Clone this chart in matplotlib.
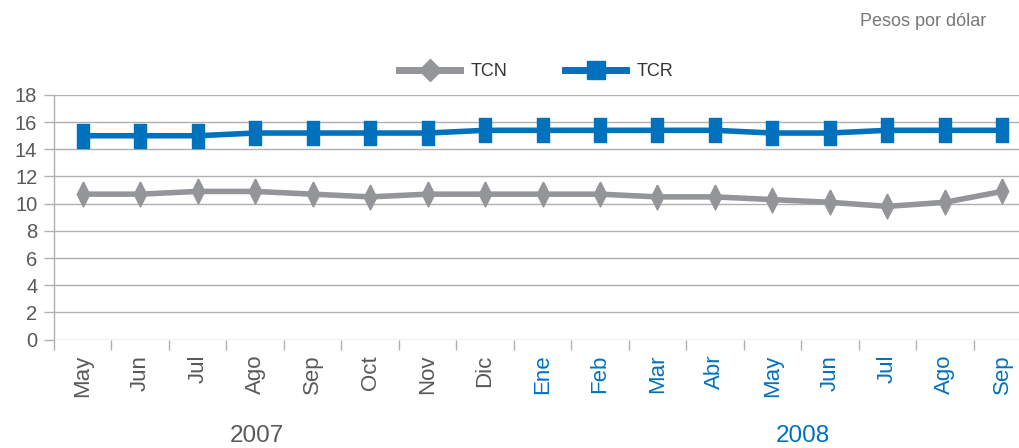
import matplotlib
matplotlib.use("Agg")
import matplotlib.pyplot as plt
from matplotlib.lines import Line2D

plt.rcParams['font.family'] = ['Liberation Sans', 'DejaVu Sans']

meses = ['May', 'Jun', 'Jul', 'Ago', 'Sep', 'Oct', 'Nov', 'Dic',
         'Ene', 'Feb', 'Mar', 'Abr', 'May', 'Jun', 'Jul', 'Ago', 'Sep']
anios = ['2007', '2008']
tcn = [10.7, 10.7, 10.9, 10.9, 10.7, 10.5, 10.7, 10.7,
       10.7, 10.7, 10.5, 10.5, 10.3, 10.1, 9.8, 10.1, 10.9]
tcr = [15.0, 15.0, 15.0, 15.2, 15.2, 15.2, 15.2, 15.4,
       15.4, 15.4, 15.4, 15.4, 15.2, 15.2, 15.4, 15.4, 15.4]

gris = '#939598'
azul = '#0071BD'
texto = '#595959'
linea = '#b0b0b0'

# marcadores estirados como en el original
rombo = [(0, 1), (0.5, 0), (0, -1), (-0.5, 0), (0, 1)]
rect = [(-0.5, -1), (0.5, -1), (0.5, 1), (-0.5, 1), (-0.5, -1)]

fig = plt.figure(figsize=(10.19, 4.48), dpi=100)
ax = fig.add_axes([54 / 1019, 1 - 339.5 / 448, (1031 - 54) / 1019, (339.5 - 95) / 448])

x = list(range(len(meses)))
ax.plot(x, tcn, color=gris, lw=4, marker=rombo, ms=18, mec=gris, mfc=gris,
        solid_joinstyle='round', zorder=3)
ax.plot(x, tcr, color=azul, lw=4, marker=rect, ms=17.5, mec=azul, mfc=azul,
        solid_joinstyle='round', zorder=3)

ax.set_ylim(0, 18)
ax.set_yticks(range(0, 19, 2))
ax.set_xlim(-0.5, len(meses) - 0.5)
ax.grid(axis='y', color=linea, lw=1, zorder=0)
ax.set_axisbelow(True)

for s in ['top', 'right', 'bottom']:
    ax.spines[s].set_visible(False)
ax.spines['left'].set_color(linea)
ax.spines['left'].set_linewidth(1)

ax.tick_params(axis='y', colors=linea, length=7, width=1, pad=5,
               labelsize=14.5, labelcolor=texto)
ax.set_xticks(x)
ax.set_xticklabels(meses, rotation=90, fontsize=16)
ax.tick_params(axis='x', length=0, pad=11)
ax.set_xticks([i - 0.5 for i in range(len(meses) + 1)], minor=True)
ax.tick_params(axis='x', which='minor', length=7.5, width=1, color=linea)
for i, lab in enumerate(ax.get_xticklabels()):
    lab.set_color(texto if i < 8 else azul)

fig.text(257 / 1019, 1 - 436 / 448, anios[0], ha='center', va='center',
         fontsize=17.5, color=texto)
fig.text(803 / 1019, 1 - 436 / 448, anios[1], ha='center', va='center',
         fontsize=17.5, color=azul)
fig.text(986 / 1019, 1 - 21 / 448, 'Pesos por dólar', ha='right', va='center',
         fontsize=13, color='#777777')

h1 = Line2D([], [], color=gris, lw=5, marker='D', ms=11, mfc=gris, mec=gris)
h2 = Line2D([], [], color=azul, lw=5, marker='s', ms=13.5, mfc=azul, mec=azul)
fig.legend([h1, h2], ['TCN', 'TCR'], loc='center', ncol=2,
           bbox_to_anchor=(536 / 1019, 1 - 72 / 448), frameon=False,
           fontsize=13, handlelength=3.4, handletextpad=0.55, columnspacing=3.2,
           labelcolor='#333333')

fig.savefig('out.png', dpi=100)
